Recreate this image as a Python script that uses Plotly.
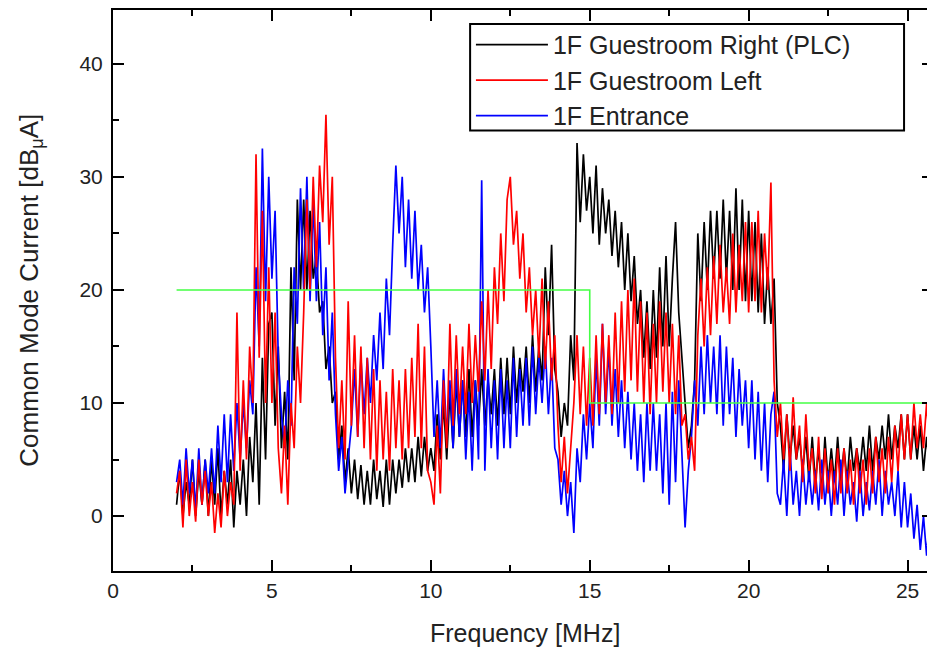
import plotly.graph_objects as go

# Frequency sweep: 2.0 MHz to 25.9 MHz in 0.1 MHz steps
f_start = 2.0
f_step = 0.1

black = [
    1, 4, 0, 3, 1, 5, 0, 4, 1, 5,
    0, 5, 1, 6, 0, 4, 1, 5, -1, 4,
    1, 5, 0, 7, 3, 10, 1, 14, 5, 17,
    18, 8, 15, 6, 11, 5, 22, 12, 28, 20,
    28, 20, 27, 21, 23, 18, 19, 13, 15, 10,
    11, 5, 8, 3, 6, 2, 5, 1.5, 4.5, 1,
    4, 1, 5, 1.5, 4, 0.8, 5, 1, 5, 2,
    5, 2.5, 6, 3, 6, 3, 7, 3.5, 7, 4,
    6, 4, 9, 5, 10, 5, 11, 6, 12, 7,
    12, 7, 13, 7, 12, 8, 13, 8, 12, 9,
    13, 8, 14, 9, 14, 9, 15, 10, 14, 11,
    15, 10, 16, 11, 15, 12, 22, 16, 24, 13,
    11, 7, 10, 8, 16, 12, 33, 26, 32, 27,
    30, 25, 31, 24, 29, 25, 28, 23, 27, 22,
    26, 20, 25, 19, 23, 17, 20, 14, 19, 13,
    20, 14, 22, 15, 23, 15, 21, 26, 18, 14,
    10, 6, 8, 12, 25, 19, 26, 20, 27, 21,
    27, 21, 28, 21, 27, 20, 29, 20, 28, 19,
    27, 19, 26, 18, 25, 17, 22, 17, 21, 10,
    8, 4, 9, 5, 8, 5, 7, 4, 7, 3,
    7, 3, 6, 2, 7, 3, 6, 3, 7, 3,
    6, 3, 7, 4, 6, 4, 7, 4, 8, 4,
    7, 5, 8, 5, 9, 5, 8, 6, 9, 5,
    9, 5, 8, 5, 8, 4, 7, 4, 6, 4,
]

red = [
    2, 4, -1, 5, 0, 3, -0.5, 5, 1, 4,
    0, 3, -1.5, 2, -1, 4, 0, 3, 1, 18,
    4, 12, 5, 15, 10, 32, 14, 27, 10, 22,
    10, 18, 6, 2, 8, 1, 10, 6, 15, 10,
    18, 28, 20, 30, 22, 31, 26, 35.5, 24, 30,
    14, 6, 12, 5, 19, 8, 16, 7, 15, 6,
    14, 5, 13, 4, 12, 5, 11, 4, 13, 6,
    12, 5, 13, 6, 14, 7, 17, 6, 15, 4,
    3, 1, 8, 2, 12, 6, 17, 8, 16, 9,
    15, 9, 17, 10, 16, 11, 19, 12, 20, 13,
    22, 17, 25, 19, 28, 30, 24, 27, 21, 25,
    18, 22, 16, 20, 14, 21, 13, 19, 12, 16,
    8, 3, 7, 2, 6, 10, 16, 9, 15, 8,
    14, 8, 16, 9, 17, 10, 16, 9, 18, 10,
    19, 11, 20, 12, 21, 11, 19, 10, 18, 9,
    17, 10, 19, 11, 18, 10, 17, 9, 16, 8,
    9, 5, 7, 4, 16, 21, 15, 22, 16, 23,
    17, 24, 18, 22, 17, 25, 18, 24, 19, 26,
    18, 26, 19, 27, 18, 25, 20, 29.5, 12, 7,
    10, 5, 9, 4, 10.5, 5, 8, 3, 9, 4,
    6, 2, 7, 1.5, 6, 2, 5, 1, 6, 2,
    6, 2, 5, 1, 6, 2, 5, 1, 6, 2,
    7, 3, 6, 2, 7, 3, 8, 4, 9, 5,
    9, 5, 10, 6, 9, 6, 10, 6, 9, 7,
]

blue = [
    3, 5, 1, 6, 2, 5, 0.5, 6, 1, 5,
    2, 6, 2, 8, 3, 9, 3, 9, 4, 10,
    5, 10, 6, 12, 9, 22, 15, 32.5, 19, 30,
    21, 27, 14, 9, 6, 12, 8, 22, 17, 29,
    20, 30, 19, 28, 19, 26, 16, 22, 12, 18,
    9, 4, 7, 2, 5, 8, 13, 7, 14, 9,
    14, 10, 16, 12, 18, 13, 21, 16, 24, 31,
    25, 30, 22, 28, 21, 27, 20, 24, 18, 22,
    15, 7, 12, 6, 13, 7, 12, 6, 13, 7,
    12, 5, 11, 4, 12, 5, 29.7, 4, 13, 6,
    12, 5, 13, 6, 12, 6, 14, 7, 13, 8,
    14, 8, 15, 9, 14, 10, 15, 9, 14, 6,
    5, 1, 4, 0, 3, -1.5, 6, 3, 9, 5,
    10, 6, 14, 8, 17, 9, 15, 8, 13, 7,
    12, 6, 11, 5, 10, 4, 9, 3, 10, 4,
    10, 4, 9, 2, 10, 1, 11, 3, 12, 5,
    -1, 4, 7, 12, 8, 15, 9, 16, 10, 15,
    9, 16, 8, 15, 9, 14, 7, 13, 8, 12,
    6, 12, 5, 11, 4, 10, 3, 9, 11, 2,
    1, 5, 0, 6, 1, 4, 0, 5, 1, 4,
    1, 4, 0.5, 5, 1, 4, 0, 4, 1, 5,
    0, 4, 1, 3, -0.5, 4, 0, 3, 0.5, 4,
    1, 5, 0, 4, 1, 3, 0, 4, -1, 3,
    -1, 2, -2, 1, -3, 0, -3.5, 0, -4, -1,
]

limit_f = [2, 15, 15, 25.8]
limit_v = [20, 20, 10, 10]

names = ["1F Guestroom Right (PLC)", "1F Guestroom Left", "1F Entrance"]

freq = [round(f_start + f_step * i, 2) for i in range(len(black))]

FONT = "Liberation Sans, Arial, sans-serif"

fig = go.Figure()
fig.add_trace(go.Scatter(x=freq, y=black, mode="lines", name=names[0],
                         line=dict(color="black", width=1.7), legendrank=1))
fig.add_trace(go.Scatter(x=freq, y=blue, mode="lines", name=names[2],
                         line=dict(color="#0000ff", width=1.7), legendrank=3))
fig.add_trace(go.Scatter(x=freq, y=red, mode="lines", name=names[1],
                         line=dict(color="#ff0000", width=1.7), legendrank=2))
fig.add_trace(go.Scatter(x=limit_f, y=limit_v, mode="lines", showlegend=False,
                         line=dict(color="#44ff44", width=1.6)))

axis_common = dict(
    showline=True, linecolor="black", linewidth=2, mirror="ticks",
    ticks="inside", ticklen=11, tickwidth=2, tickcolor="black",
    showgrid=False, zeroline=False,
    tickfont=dict(family=FONT, size=21, color="#222"),
)

fig.update_xaxes(range=[0, 25.8], tick0=0, dtick=5,
                 minor=dict(ticks="inside", ticklen=6, tickwidth=2, dtick=2.5, tick0=0, tickcolor="black"),
                 ticklabelstandoff=0, **axis_common)
fig.update_yaxes(range=[-4.86, 44.76], tick0=0, dtick=10,
                 minor=dict(ticks="inside", ticklen=6, tickwidth=2, dtick=5, tick0=0, tickcolor="black"),
                 ticklabelstandoff=4, **axis_common)

fig.add_annotation(text="Frequency [MHz]", xref="paper", yref="paper",
                   x=0.503, y=-0.082, xanchor="center", yanchor="top", showarrow=False,
                   font=dict(family=FONT, size=25, color="#222"))
fig.add_annotation(text="Common Mode Current [dB<sub>μ</sub>A]", xref="paper", yref="paper",
                   x=-0.101, y=0.5, xanchor="center", yanchor="middle", showarrow=False,
                   textangle=-90, font=dict(family=FONT, size=26, color="#222"))

# legend frame
fig.add_shape(type="rect", xref="paper", yref="paper",
              x0=0.4355, x1=0.9647, y0=0.785, y1=0.975,
              line=dict(color="black", width=2), fillcolor="white", layer="above")

fig.update_layout(
    width=927, height=641,
    margin=dict(l=105, r=0, t=1, b=78),
    plot_bgcolor="white", paper_bgcolor="white",
    legend=dict(x=0.4365, y=0.979, xanchor="left", yanchor="top",
                borderwidth=0, bgcolor="rgba(0,0,0,0)",
                font=dict(family=FONT, size=25, color="#222"),
                itemwidth=72, tracegroupgap=0),
    showlegend=True,
)

fig.write_html("out.html")
